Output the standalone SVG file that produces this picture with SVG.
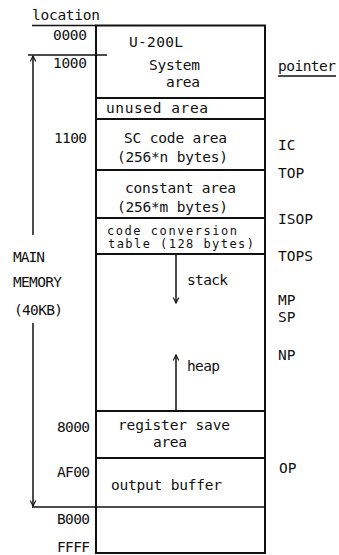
<svg xmlns="http://www.w3.org/2000/svg" width="339" height="555" viewBox="0 0 339 555">
<style>
text{font-family:"DejaVu Sans Mono","Liberation Mono",monospace;font-size:14.5px;fill:#111}
.ln{stroke:#111;stroke-width:2;fill:none}
.th{stroke:#111;stroke-width:1.5;fill:none}
.sm{font-size:12px}
</style>
<defs>
<marker id="ah" viewBox="0 0 10 10" refX="9" refY="5" markerWidth="7" markerHeight="7" orient="auto-start-reverse" markerUnits="userSpaceOnUse">
<path d="M1,1 L9,5 L1,9" fill="none" stroke="#111" stroke-width="1.6"/>
</marker>
</defs>
<g id="labels-location">
<text x="32" y="20" textLength="68">location</text>
<text x="53" y="40" textLength="34">0000</text>
<text x="53" y="68" textLength="34">1000</text>
<text x="54" y="143" textLength="33">1100</text>
<text x="57" y="432" textLength="33">8000</text>
<text x="57" y="477" textLength="33">AF00</text>
<text x="57" y="524" textLength="33">B000</text>
<text x="57" y="552" textLength="33">FFFF</text>
</g>
<g id="main-memory">
<text x="13" y="262" textLength="32">MAIN</text>
<text x="13" y="287" textLength="49">MEMORY</text>
<text x="14" y="315" textLength="49">(40KB)</text>
</g>
<g id="pointers">
<text x="278" y="71" textLength="58">pointer</text>
<line class="th" x1="278" y1="76" x2="336" y2="76"/>
<text x="278" y="150">IC</text>
<text x="278" y="178">TOP</text>
<text x="278" y="224">ISOP</text>
<text x="278" y="261">TOPS</text>
<text x="278" y="305">MP</text>
<text x="278" y="322">SP</text>
<text x="278" y="360">NP</text>
<text x="279" y="473">OP</text>
</g>
<g id="memory-box">
<rect class="ln" x="96" y="25.5" width="169" height="527.5"/>
</g>
<g id="system-area">
<text x="129" y="47" textLength="54">U-200L</text>
<text x="149" y="70" textLength="51">System</text>
<text x="166" y="87" textLength="34">area</text>
</g>
<g id="unused-area">
<line class="ln" x1="96" y1="98" x2="265" y2="98"/>
<text x="106" y="113" textLength="102">unused area</text>
</g>
<g id="sc-code-area">
<line class="ln" x1="96" y1="119" x2="265" y2="119"/>
<text x="124" y="143" textLength="103">SC code area</text>
<text x="117" y="162" textLength="111">(256*n bytes)</text>
</g>
<g id="constant-area">
<line class="ln" x1="96" y1="170" x2="265" y2="170"/>
<text x="125" y="193" textLength="111">constant area</text>
<text x="117" y="212" textLength="111">(256*m bytes)</text>
</g>
<g id="code-conversion">
<line class="ln" x1="96" y1="218" x2="265" y2="218"/>
<text class="sm" x="107" y="235" textLength="130">code conversion</text>
<text class="sm" x="108" y="248" textLength="146">table (128 bytes)</text>
</g>
<g id="stack-heap">
<line class="ln" x1="96" y1="254" x2="265" y2="254"/>
<text x="187" y="285" textLength="41">stack</text>
<text x="187" y="371" textLength="33">heap</text>
</g>
<g id="register-save">
<line class="ln" x1="96" y1="411" x2="265" y2="411"/>
<text x="118" y="430" textLength="112">register save</text>
<text x="153" y="447" textLength="34">area</text>
</g>
<g id="output-buffer">
<line class="ln" x1="96" y1="458" x2="265" y2="458"/>
<text x="111" y="490" textLength="111">output buffer</text>
</g>
<g id="connectors">
<line class="th" x1="32" y1="25.5" x2="96" y2="25.5"/>
<line class="th" x1="28" y1="55" x2="107" y2="55"/>
<line class="th" x1="32" y1="507" x2="265" y2="507"/>
<line class="th" x1="33" y1="235" x2="33" y2="56" marker-end="url(#ah)"/>
<line class="th" x1="33" y1="323" x2="33" y2="506" marker-end="url(#ah)"/>
<line class="th" x1="176" y1="254" x2="176" y2="303" marker-end="url(#ah)"/>
<line class="th" x1="176" y1="411" x2="176" y2="355" marker-end="url(#ah)"/>
</g>
</svg>
